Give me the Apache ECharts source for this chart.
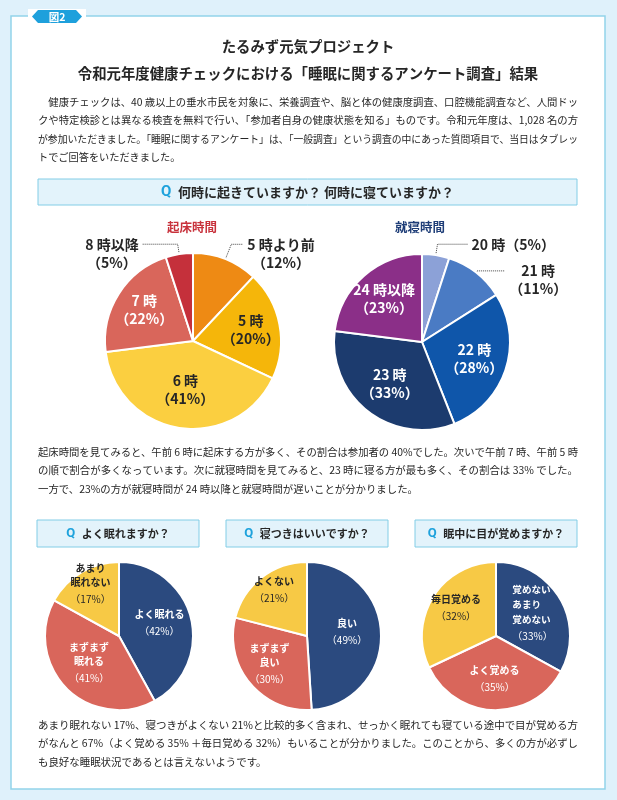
<!DOCTYPE html>
<html><head><meta charset="utf-8">
<script src="https://cdn.jsdelivr.net/npm/echarts@6/dist/echarts.min.js"></script>
<style>html,body{margin:0;padding:0;background:#dff1fb}#c{width:617px;height:800px}</style>
</head><body><div id="c"></div>
<script>
// ---- data ----
const wakeCategories = ['5 時より前', '5 時', '6 時', '7 時', '8 時以降'];
const wakeValues = [12, 20, 41, 22, 5];
const sleepCategories = ['20 時', '21 時', '22 時', '23 時', '24 時以降'];
const sleepValues = [5, 11, 28, 33, 23];
const qualityCategories = ['よく眠れる', 'まずまず\n眠れる', 'あまり\n眠れない'];
const qualityValues = [42, 41, 17];
const onsetCategories = ['良い', 'まずまず\n良い', 'よくない'];
const onsetValues = [49, 30, 21];
const wakingCategories = ['覚めない\nあまり\n覚めない', 'よく覚める', '毎日覚める'];
const wakingValues = [33, 35, 32];

const titleLines = ['たるみず元気プロジェクト', '令和元年度健康チェックにおける「睡眠に関するアンケート調査」結果'];
const introLines = [
  '　健康チェックは、40 歳以上の垂水市民を対象に、栄養調査や、脳と体の健康度調査、口腔機能調査など、人間ドッ',
  'クや特定検診とは異なる検査を無料で行い、「参加者自身の健康状態を知る」ものです。令和元年度は、1,028 名の方',
  'が参加いただきました。「睡眠に関するアンケート」は、「一般調査」という調査の中にあった質問項目で、当日はタブレッ',
  'トでご回答をいただきました。'
];
const middleLines = [
  '起床時間を見てみると、午前 6 時に起床する方が多く、その割合は参加者の 40%でした。次いで午前 7 時、午前 5 時',
  'の順で割合が多くなっています。次に就寝時間を見てみると、23 時に寝る方が最も多く、その割合は 33% でした。',
  '一方で、23%の方が就寝時間が 24 時以降と就寝時間が遅いことが分かりました。'
];
const bottomLines = [
  'あまり眠れない 17%、寝つきがよくない 21%と比較的多く含まれ、せっかく眠れても寝ている途中で目が覚める方',
  'がなんと 67%（よく覚める 35% ＋毎日覚める 32%）もいることが分かりました。このことから、多くの方が必ずし',
  'も良好な睡眠状況であるとは言えないようです。'
];
const mainQuestion = '何時に起きていますか？ 何時に寝ていますか？';
const subtitles = ['起床時間', '就寝時間'];
const smallQuestions = ['よく眠れますか？', '寝つきはいいですか？', '眠中に目が覚めますか？'];

// ---- styles ----
const FONT = '"Noto Sans CJK JP","Noto Sans CJK SC","Noto Sans",sans-serif';
const DARK = '#262626';
const WHITE = '#ffffff';
const wakeColors = ['#ee8a14', '#f5b60a', '#fbcf40', '#d9665b', '#c5303b'];
const wakeText = [DARK, DARK, DARK, WHITE, DARK];
const sleepColors = ['#8ca1d7', '#4a7bc4', '#0f56aa', '#1c3b6e', '#8b2f88'];
const sleepText = [DARK, DARK, WHITE, WHITE, WHITE];
const smallColors = ['#2b4a7f', '#d9665b', '#f7c945'];
const smallText = [WHITE, WHITE, DARK];

function richLines(name, key) {
  return name.split('\n').map(s => '{' + key + '|' + s + '}').join('\n');
}
const dotted = { type: 'dotted', color: '#444', width: 1 };

// push inside labels outward for narrower slices (area-centroid look)
function pushLayout(center, vals, divisor, skip, fixedK) {
  return function (params) {
    if (skip && skip[params.dataIndex]) return {};
    const v = vals[params.dataIndex];
    let k = 1 + Math.min(0.45, Math.max(0, (45 - v) / divisor));
    if (fixedK && fixedK[params.dataIndex] != null) k = fixedK[params.dataIndex];
    const r = params.labelRect;
    const cx = r.x + r.width / 2, cy = r.y + r.height / 2;
    return { x: center[0] + (cx - center[0]) * k, y: center[1] + (cy - center[1]) * k };
  };
}

function bigPie(cats, vals, colors, textColors, center, outside) {
  return {
    type: 'pie', center: center, radius: [0, 88], startAngle: 90, clockwise: true,
    avoidLabelOverlap: false, animation: false, silent: true,
    itemStyle: { borderColor: '#fff', borderWidth: 2 },
    labelLine: { show: false },
    label: {
      show: true, position: 'inside', fontFamily: FONT,
      formatter: p => richLines(p.name, 'n') + '\n{p|（' + p.value + '%）}',
      rich: {
        n: { fontSize: 14, fontWeight: 'bold', lineHeight: 18, fontFamily: FONT },
        p: { fontSize: 14, fontWeight: 'bold', lineHeight: 18, fontFamily: FONT }
      }
    },
    labelLayout: pushLayout(center, vals, 100, outside, null),
    data: cats.map((n, i) => {
      const item = { name: n, value: vals[i], itemStyle: { color: colors[i] }, label: { color: textColors[i] } };
      const o = outside[i];
      if (o) {
        item.label = {
          position: 'outside', color: DARK, distanceToLabelLine: 4,
          padding: o.oneLine ? 0 : [18, 0, 0, 0],
          formatter: o.oneLine
            ? (p => '{n|' + p.name + '}{p|（' + p.value + '%）}')
            : (p => richLines(p.name, 'n') + '\n{p|（' + p.value + '%）}'),
          rich: {
            n: { fontSize: 14, fontWeight: 'bold', lineHeight: 18, fontFamily: FONT, align: 'center' },
            p: { fontSize: 14, fontWeight: 'bold', lineHeight: 18, fontFamily: FONT, align: 'center' }
          }
        };
        item.labelLine = { show: true, length: o.length, length2: o.length2, lineStyle: dotted };
      }
      return item;
    })
  };
}

function smallPie(cats, vals, center, leftAlignIndex) {
  const fixedK = {};
  if (leftAlignIndex >= 0) fixedK[leftAlignIndex] = 1.06;
  return {
    type: 'pie', center: center, radius: [0, 74], startAngle: 90, clockwise: true,
    avoidLabelOverlap: false, animation: false, silent: true,
    itemStyle: { borderColor: '#fff', borderWidth: 2 },
    labelLine: { show: false },
    label: {
      show: true, position: 'inside', fontFamily: FONT,
      formatter: p => richLines(p.name, 'n') + '\n{p|（' + p.value + '%）}',
      rich: {
        n: { fontSize: 10, fontWeight: 'bold', lineHeight: 14, fontFamily: FONT },
        p: { fontSize: 10, fontWeight: 'normal', lineHeight: 20, fontFamily: FONT }
      }
    },
    labelLayout: pushLayout(center, vals, 70, null, fixedK),
    data: cats.map((n, i) => {
      const item = { name: n, value: vals[i], itemStyle: { color: smallColors[i] }, label: { color: smallText[i] } };
      if (i === leftAlignIndex) {
        item.label.rich = {
          n: { fontSize: 9.6, fontWeight: 'bold', lineHeight: 15, fontFamily: FONT, align: 'left' },
          p: { fontSize: 10, fontWeight: 'normal', lineHeight: 19, fontFamily: FONT, align: 'left' }
        };
      }
      return item;
    })
  };
}

const measureCtx = document.createElement('canvas').getContext('2d');
function textLines(lines, x, y0, lh, size, fullWidth) {
  measureCtx.font = size + 'px ' + FONT;
  const widths = lines.map(t => measureCtx.measureText(t).width);
  const scales = widths.map(w => fullWidth / w);
  const full = scales.slice(0, -1);
  const mean = full.reduce((a, b) => a + b, 0) / Math.max(1, full.length);
  return lines.map((t, i) => ({
    type: 'text', x: x, y: y0 + i * lh,
    scaleX: i === lines.length - 1 ? mean : scales[i],
    style: { text: t, fontSize: size, fontFamily: FONT, fill: DARK, align: 'left', verticalAlign: 'middle' }
  }));
}
function banner(x, y, w, h, text, size) {
  return [
    { type: 'rect', shape: { x: x, y: y, width: w, height: h }, style: { fill: '#e3f3fb', stroke: '#82cde6', lineWidth: 1 } },
    { type: 'text', x: x + w / 2, y: y + h / 2,
      style: { text: '{q|Q}  {t|' + text + '}', align: 'center', verticalAlign: 'middle',
        rich: { q: { fontSize: size + 2, fontWeight: 'bold', fill: '#1ea2dc', fontFamily: 'Roboto, "Noto Sans", sans-serif' },
                t: { fontSize: size, fontWeight: 'bold', fill: DARK, fontFamily: FONT } } } }
  ];
}

const graphics = [
  { type: 'rect', shape: { x: 11, y: 16, width: 594, height: 773 }, style: { fill: '#fff', stroke: '#92d3ea', lineWidth: 1.5 } },
  { type: 'rect', shape: { x: 28, y: 9, width: 58, height: 15 }, style: { fill: '#fff' } },
  { type: 'polygon', shape: { points: [[32, 16.5], [38, 10], [76, 10], [82, 16.5], [76, 23], [38, 23]] }, style: { fill: '#1ea0dc' } },
  { type: 'text', x: 57, y: 16.8, style: { text: '図2', fontSize: 10.5, fontWeight: 'bold', fontFamily: FONT, fill: '#fff', align: 'center', verticalAlign: 'middle' } },
  { type: 'text', x: 308, y: 47, style: { text: titleLines[0], fontSize: 14.4, fontWeight: 'bold', fontFamily: FONT, fill: DARK, align: 'center', verticalAlign: 'middle' } },
  { type: 'text', x: 308, y: 74, style: { text: titleLines[1], fontSize: 14.4, fontWeight: 'bold', fontFamily: FONT, fill: DARK, align: 'center', verticalAlign: 'middle' } },
  ...textLines(introLines, 38, 102, 18.5, 10.2, 540),
  ...banner(38, 179, 539, 26, mainQuestion, 13),
  { type: 'text', x: 192, y: 227, style: { text: subtitles[0], fontSize: 12.5, fontWeight: 'bold', fontFamily: FONT, fill: '#c8323c', align: 'center', verticalAlign: 'middle' } },
  { type: 'text', x: 420, y: 227, style: { text: subtitles[1], fontSize: 12.5, fontWeight: 'bold', fontFamily: FONT, fill: '#1f3e78', align: 'center', verticalAlign: 'middle' } },
  ...textLines(middleLines, 38, 452, 18.5, 10.2, 540),
  ...banner(37, 520, 162, 27, smallQuestions[0], 11),
  ...banner(226, 520, 162, 27, smallQuestions[1], 11),
  ...banner(415, 520, 162, 27, smallQuestions[2], 11),
  ...textLines(bottomLines, 38, 725, 18.5, 10.2, 540)
];

const chart = echarts.init(document.getElementById('c'), null, { renderer: 'canvas' });
chart.setOption({
  backgroundColor: '#dff1fb',
  animation: false,
  graphic: { elements: graphics },
  series: [
    bigPie(wakeCategories, wakeValues, wakeColors, wakeText, [193, 341],
      { 0: { length: 16, length2: 12 }, 4: { length: 10, length2: 35 } }),
    bigPie(sleepCategories, sleepValues, sleepColors, sleepText, [422, 342],
      { 0: { length: 11, length2: 30, oneLine: true }, 1: { length: 2, length2: 28 } }),
    smallPie(qualityCategories, qualityValues, [119, 636], -1),
    smallPie(onsetCategories, onsetValues, [307, 636], -1),
    smallPie(wakingCategories, wakingValues, [496, 636], 0)
  ]
});
</script></body></html>
